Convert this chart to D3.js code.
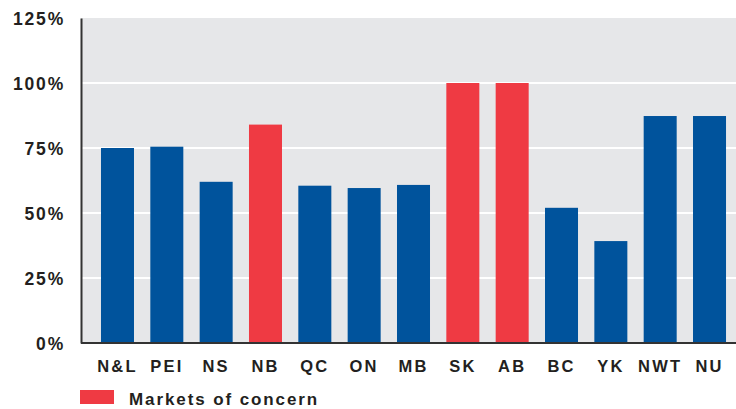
<!DOCTYPE html>
<html><head><meta charset="utf-8">
<script src="https://cdn.jsdelivr.net/npm/d3@7"></script>
<style>body{margin:0;background:#fff}svg{display:block}text{font-family:"Liberation Sans",Arial,sans-serif;font-weight:bold;fill:#231f20}</style>
</head><body><svg id="c" width="736" height="409"></svg>
<script>
const categories = ["N&L","PEI","NS","NB","QC","ON","MB","SK","AB","BC","YK","NWT","NU"];
const values = [75, 75.5, 62, 84, 60.5, 59.6, 60.8, 100, 100, 52, 39.2, 87.3, 87.3];
const concern = ["NB","SK","AB"];
const yTicks = [0, 25, 50, 75, 100, 125];
const legendLabel = "Markets of concern";

const svg = d3.select("#c");
const mLeft = 81, mRight = 736, mTop = 18, mBottom = 343;
const x = d3.scaleBand().domain(categories).range([mLeft, 746]).paddingInner(0.331).paddingOuter(0.405);
const y = d3.scaleLinear().domain([0, 125]).range([mBottom, mTop]);

svg.append("rect").attr("x", mLeft).attr("y", mTop).attr("width", mRight - mLeft).attr("height", mBottom - mTop).attr("fill", "#e6e7e9");

svg.append("g").selectAll("line").data(yTicks.filter(d => d > 0 && d < 125)).join("line")
  .attr("x1", mLeft).attr("x2", mRight).attr("y1", d => y(d)).attr("y2", d => y(d))
  .attr("stroke", "#fff").attr("stroke-width", 2);

svg.append("g").selectAll("rect").data(categories).join("rect")
  .attr("x", d => x(d)).attr("width", x.bandwidth())
  .attr("y", (d, i) => y(values[i])).attr("height", (d, i) => mBottom - y(values[i]))
  .attr("fill", d => concern.includes(d) ? "#ef3a43" : "#00539c");

const yAxis = svg.append("g").attr("transform", `translate(${mLeft},0)`)
  .call(d3.axisLeft(y).tickValues(yTicks).tickFormat(d => d + "%").tickSize(0).tickPadding(16));
yAxis.select(".domain").attr("stroke", "#333").attr("stroke-width", 2);
yAxis.selectAll("text").style("font-size", "17.5px").style("letter-spacing", "1.8px").attr("dy", "0.36em").attr("fill", "#231f20");

const xAxis = svg.append("g").attr("transform", `translate(0,${mBottom})`)
  .call(d3.axisBottom(x).tickSize(0).tickPadding(17));
xAxis.select(".domain").attr("d", `M${mLeft},0H${mRight}`).attr("stroke", "#333").attr("stroke-width", 2);
xAxis.selectAll("text").style("font-size", "16.5px").style("letter-spacing", "2.2px").attr("fill", "#231f20");

svg.append("rect").attr("x", 80).attr("y", 390).attr("width", 34).attr("height", 14).attr("fill", "#ef3a43");
svg.append("text").attr("x", 129).attr("y", 405).text(legendLabel).style("font-size", "17px").style("letter-spacing", "1.9px");
</script></body></html>
